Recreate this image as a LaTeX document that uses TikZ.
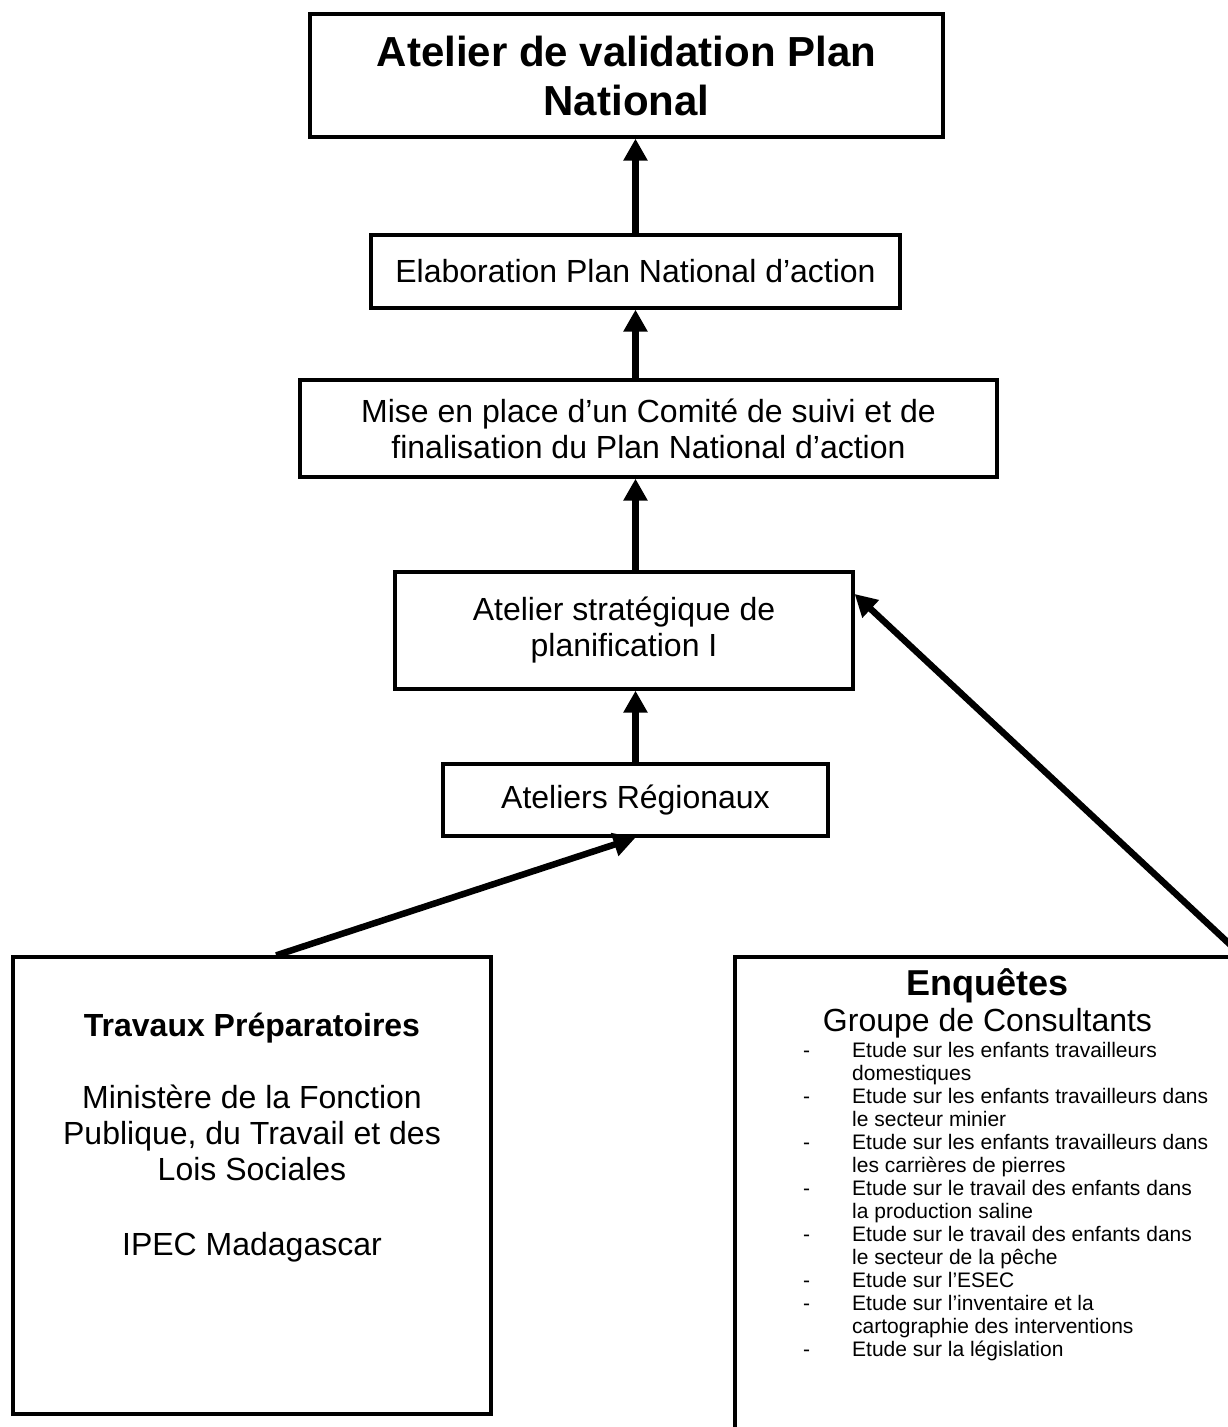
\documentclass[tikz,border=0pt]{standalone}
\usepackage{fontspec}
\setmainfont{Liberation Sans}
\usetikzlibrary{calc,arrows.meta}
\tikzset{
    kader/.style={draw, line width=3.3pt, inner sep=0pt, align=center, font=\fontsize{32}{36}\selectfont},
    pijl/.style={-{Triangle[length=22pt,width=23pt]}, line width=6.5pt},
}

\begin{document}
\begin{tikzpicture}[x=1pt,y=-1pt]
    \useasboundingbox (0,0) rectangle (1228,1427);
    \clip (0,0) rectangle (1228,1427);

    % de keten van ateliers
    \node[kader, minimum width=633pt, minimum height=123pt, font=\fontsize{42}{49}\selectfont\bfseries] (validatie) at (626.5,75.5) {Atelier de validation Plan\\National};
    \node[kader, minimum width=529pt, minimum height=73pt] (elaboratie) at (635.5,271.5) {Elaboration Plan National d’action};
    \node[kader, minimum width=697pt, minimum height=97pt] (comite) at (648.5,428.5) {Mise en place d’un Comité de suivi et de\\finalisation du Plan National d’action};
    \node[kader, minimum width=458pt, minimum height=117pt] (strategie) at (624,630.5) {Atelier stratégique de\\planification I};
    \node[kader, minimum width=385pt, minimum height=72pt] (regionaal) at (635.5,800) {Ateliers Régionaux};

    % links: voorbereiding
    \node[kader, minimum width=478pt, minimum height=457pt] (voorbereiding) at (252,1185.5) {};
    \node[align=center, anchor=north, inner sep=0pt, font=\fontsize{32}{36}\selectfont] (voorbereidingtekst) at (252,1013)
        {\textbf{Travaux Préparatoires}\\[36pt]Ministère de la Fonction\\Publique, du Travail et des\\Lois Sociales\\[39pt]IPEC Madagascar};

    % rechts: enquetes
    \node[kader, minimum width=505pt, minimum height=488pt] (enquetes) at (987.5,1201) {};
    \node[anchor=base, font=\fontsize{36}{42}\selectfont\bfseries] (enquetestitel) at (987.5,995) {Enquêtes};
    \node[anchor=base, font=\fontsize{32}{36}\selectfont] (consultants) at (987.5,1031.5) {Groupe de Consultants};
    \node[anchor=north west, inner sep=0pt, font=\fontsize{21}{23}\selectfont] (studies) at (803,1041) {%
        \begin{tabular}{@{}p{49pt}@{}l@{}}
        - & Etude sur les enfants travailleurs\\
          & domestiques\\
        - & Etude sur les enfants travailleurs dans\\
          & le secteur minier\\
        - & Etude sur les enfants travailleurs dans\\
          & les carrières de pierres\\
        - & Etude sur le travail des enfants dans\\
          & la production saline\\
        - & Etude sur le travail des enfants dans\\
          & le secteur de la pêche\\
        - & Etude sur l’ESEC\\
        - & Etude sur l’inventaire et la\\
          & cartographie des interventions\\
        - & Etude sur la législation
        \end{tabular}};

    \draw[pijl] (elaboratie.north) -- (elaboratie.north |- validatie.south);
    \draw[pijl] (comite.north -| elaboratie) -- (elaboratie.south);
    \draw[pijl] (strategie.north -| elaboratie) -- (comite.south -| elaboratie);
    \draw[pijl] (regionaal.north) -- (regionaal.north |- strategie.south);
    \draw[pijl] (voorbereiding.84) -- (regionaal.south);
    \draw[pijl] (enquetes.north east) -- (strategie.9);
\end{tikzpicture}
\end{document}
